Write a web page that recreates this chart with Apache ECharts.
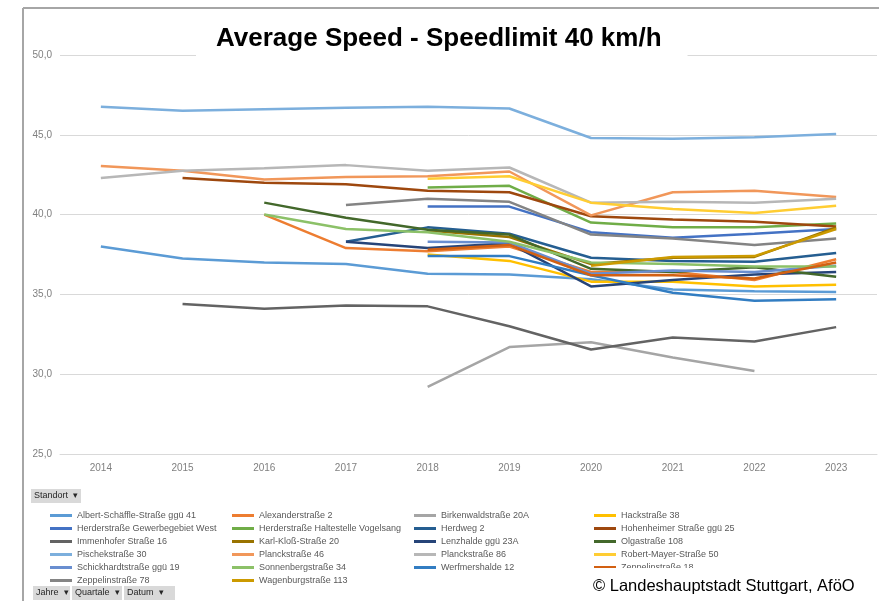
<!DOCTYPE html>
<html>
<head>
<meta charset="utf-8">
<script src="https://cdn.jsdelivr.net/npm/echarts@6/dist/echarts.min.js"></script>
<style>
  html, body { margin: 0; padding: 0; background: #fff; }
  #main { width: 879px; height: 601px; }
</style>
</head>
<body>
<div id="main"></div>
<script>
var years = ['2014', '2015', '2016', '2017', '2018', '2019', '2020', '2021', '2022', '2023'];

// Durchschnittsgeschwindigkeit je Standort (km/h), null = keine Messung
var albertSchaeffle = [38.0, 37.25, 37.0, 36.9, 36.3, 36.25, 35.95, 35.3, 35.2, 35.15];
var alexander = [null, null, 40.0, 37.9, 37.7, 38.0, 36.4, 36.4, 35.9, 37.2];
var birkenwald = [null, null, null, null, 29.2, 31.7, 32.0, 31.05, 30.2, null];
var hack = [null, null, null, null, 37.5, 37.1, 35.8, 35.8, 35.5, 35.6];
var herderGewerbe = [null, null, null, null, 40.5, 40.5, 38.9, 38.55, 38.8, 39.1];
var herderVogelsang = [null, null, null, null, 41.7, 41.8, 39.5, 39.2, 39.2, 39.45];
var herdweg = [null, null, null, 38.3, 39.2, 38.8, 37.3, 37.1, 37.05, 37.6];
var hohenheimer = [null, 42.3, 42.0, 41.9, 41.5, 41.4, 39.9, 39.7, 39.55, 39.25];
var immenhofer = [null, 34.4, 34.1, 34.3, 34.25, 33.0, 31.55, 32.3, 32.05, 32.95];
var karlKloss = [null, null, null, null, 39.0, 38.6, 36.9, 37.3, 37.35, 39.2];
var lenzhalde = [null, null, null, 38.3, 37.9, 38.2, 35.5, 35.9, 36.25, 36.4];
var olga = [null, null, 40.75, 39.8, 39.05, 38.75, 36.6, 36.4, 36.7, 36.1];
var pischek = [46.75, 46.5, 46.6, 46.7, 46.75, 46.65, 44.8, 44.75, 44.85, 45.05];
var planck46 = [43.05, 42.75, 42.2, 42.35, 42.4, 42.7, 39.95, 41.4, 41.5, 41.1];
var planck86 = [42.3, 42.75, 42.9, 43.1, 42.75, 42.95, 40.75, 40.8, 40.75, 41.0];
var robertMayer = [null, null, null, null, 42.25, 42.4, 40.75, 40.35, 40.1, 40.55];
var schickhardt = [null, null, null, null, 38.3, 38.25, 36.3, 36.5, 36.4, 36.8];
var sonnenberg = [null, null, 40.0, 39.1, 38.9, 38.3, 37.0, 36.9, 36.75, 36.75];
var werfmershalde = [null, null, null, null, 37.4, 37.4, 36.2, 35.1, 34.6, 34.7];
var zeppelin18 = [null, null, null, null, 37.8, 38.1, 36.2, 36.2, 36.0, 37.0];
var zeppelin78 = [null, null, null, 40.6, 41.0, 40.8, 38.75, 38.5, 38.1, 38.5];
var wagenburg = [null, null, null, null, null, null, 36.8, 37.35, 37.4, 39.1];

var names = [
  'Albert-Schäffle-Straße ggü 41', 'Alexanderstraße 2', 'Birkenwaldstraße 20A', 'Hackstraße 38',
  'Herderstraße Gewerbegebiet West', 'Herderstraße Haltestelle Vogelsang', 'Herdweg 2', 'Hohenheimer Straße ggü 25',
  'Immenhofer Straße 16', 'Karl-Kloß-Straße 20', 'Lenzhalde ggü 23A', 'Olgastraße 108',
  'Pischekstraße 30', 'Planckstraße 46', 'Planckstraße 86', 'Robert-Mayer-Straße 50',
  'Schickhardtstraße ggü 19', 'Sonnenbergstraße 34', 'Werfmershalde 12', 'Zeppelinstraße 18',
  'Zeppelinstraße 78', 'Wagenburgstraße 113'
];
var values = [
  albertSchaeffle, alexander, birkenwald, hack,
  herderGewerbe, herderVogelsang, herdweg, hohenheimer,
  immenhofer, karlKloss, lenzhalde, olga,
  pischek, planck46, planck86, robertMayer,
  schickhardt, sonnenberg, werfmershalde, zeppelin18,
  zeppelin78, wagenburg
];
var colors = [
  '#5B9BD5', '#ED7D31', '#A5A5A5', '#FFC000',
  '#4472C4', '#70AD47', '#255E91', '#9E480E',
  '#636363', '#997300', '#264478', '#43682B',
  '#7CAFDD', '#F1975A', '#B7B7B7', '#FFCD33',
  '#698ED0', '#8CC168', '#327DC2', '#D26012',
  '#848484', '#CC9A00'
];

var narrow = "'Liberation Sans Narrow', 'Liberation Sans', sans-serif";
var arial = "'Liberation Sans', Arial, sans-serif";

var series = names.map(function (n, i) {
  return {
    name: n,
    type: 'line',
    data: values[i],
    showSymbol: false,
    symbol: 'none',
    lineStyle: { width: 2.5, color: colors[i] },
    itemStyle: { color: colors[i] }
  };
});

// Legende: 4 Spalten, zeilenweise alphabetisch
function column(start) {
  var out = [];
  for (var i = start; i < names.length; i += 4) out.push(names[i]);
  return out;
}
var colLeft = [45, 227, 409, 589];
var legends = colLeft.map(function (x, c) {
  return {
    left: x,
    top: 504,
    orient: 'vertical',
    icon: 'rect',
    itemWidth: 22,
    itemHeight: 3,
    itemGap: 0,
    selectedMode: false,
    textStyle: { fontSize: 9, lineHeight: 13, color: '#595959', fontFamily: narrow },
    data: column(c)
  };
});

function button(x, y, w, label) {
  return [
    { type: 'rect', shape: { x: x, y: y, width: w, height: 14 }, style: { fill: '#d9d9d9' }, z: 50 },
    { type: 'text', x: x + 3, y: y + 7, style: { text: label, fill: '#262626', font: '9px ' + narrow, verticalAlign: 'middle' }, z: 51 }
  ];
}

var graphics = [
  { type: 'line', shape: { x1: 23, y1: 8, x2: 879, y2: 8 }, style: { stroke: '#a6a6a6', lineWidth: 2 }, z: 40 },
  { type: 'line', shape: { x1: 23, y1: 8, x2: 23, y2: 601 }, style: { stroke: '#a6a6a6', lineWidth: 2 }, z: 40 },
  { type: 'rect', shape: { x: 585, y: 568, width: 285, height: 33 }, style: { fill: '#fff' }, z: 60 },
  { type: 'text', x: 593, y: 586, style: { text: '© Landeshauptstadt Stuttgart, AföO', fill: '#000', font: '16.5px ' + arial, verticalAlign: 'middle' }, z: 61 }
].concat(button(31, 489, 50, 'Standort  ▾'))
 .concat(button(33, 586, 37, 'Jahre  ▾'))
 .concat(button(72, 586, 50, 'Quartale  ▾'))
 .concat(button(124, 586, 51, 'Datum  ▾'));

var myChart = echarts.init(document.getElementById('main'));
var option = {
  backgroundColor: '#fff',
  animation: false,
  color: colors,
  title: {
    text: 'Average Speed - Speedlimit 40 km/h',
    left: 196,
    top: 21,
    padding: [5, 26, 6, 20],
    backgroundColor: '#fff',
    textStyle: { fontSize: 26, fontWeight: 'bold', color: '#000', fontFamily: arial }
  },
  legend: legends,
  grid: { left: 60, right: 2, top: 55, bottom: 147, containLabel: false },
  xAxis: {
    type: 'category',
    data: years,
    boundaryGap: true,
    axisLine: { lineStyle: { color: '#d9d9d9' } },
    axisTick: { show: false },
    axisLabel: { color: '#808080', fontSize: 10, fontFamily: narrow, margin: 9 }
  },
  yAxis: {
    type: 'value',
    min: 25,
    max: 50,
    interval: 5,
    axisLine: { show: false },
    axisTick: { show: false },
    splitLine: { lineStyle: { color: '#d9d9d9' } },
    axisLabel: {
      color: '#808080', fontSize: 10, fontFamily: narrow, margin: 8,
      formatter: function (v) { return v.toFixed(1).replace('.', ','); }
    }
  },
  graphic: graphics,
  series: series
};
myChart.setOption(option);
</script>
</body>
</html>
